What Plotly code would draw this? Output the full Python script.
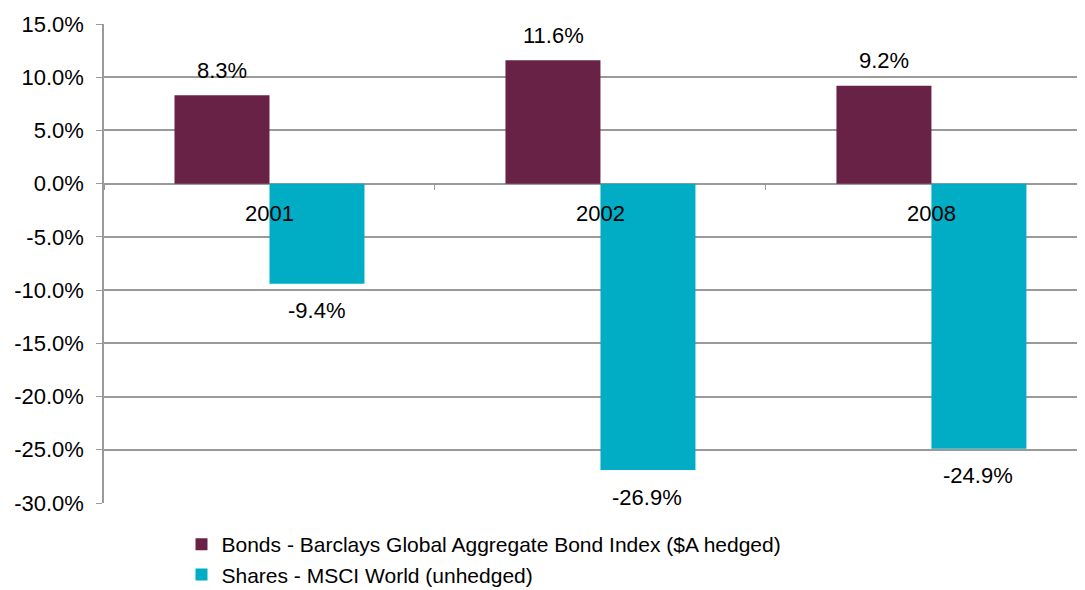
import plotly.graph_objects as go

categories = ["2001", "2002", "2008"]
bonds = [8.3, 11.6, 9.2]
shares = [-9.4, -26.9, -24.9]
series_names = ["Bonds - Barclays Global Aggregate Bond Index ($A hedged)",
                "Shares - MSCI World (unhedged)"]
y_ticks = [15, 10, 5, 0, -5, -10, -15, -20, -25, -30]

BOND_C = "#672245"
SHARE_C = "#00ADC4"
GRID = "#9a9a9a"
FONT = "Liberation Sans, Arial, sans-serif"
FS = 22

fig = go.Figure()
fig.add_trace(go.Bar(x=categories, y=bonds, name=series_names[0],
                     marker=dict(color=BOND_C, line=dict(width=0))))
fig.add_trace(go.Bar(x=categories, y=shares, name=series_names[1],
                     marker=dict(color=SHARE_C, line=dict(width=0))))

annotations = []
for i, c in enumerate(categories):
    annotations.append(dict(x=i, y=bonds[i], xref="x", yref="y", text=f"{bonds[i]:.1f}%",
                            showarrow=False, xshift=-47, yshift=25,
                            font=dict(size=FS, color="black", family=FONT)))
    annotations.append(dict(x=i, y=shares[i], xref="x", yref="y", text=f"{shares[i]:.1f}%",
                            showarrow=False, xshift=47, yshift=-27,
                            font=dict(size=FS, color="black", family=FONT)))

# page body adds an 8px offset, so the figure is 8px smaller than the window
fig.update_layout(
    width=1077, height=582,
    margin=dict(l=96, r=0, t=16, b=87, autoexpand=False),
    paper_bgcolor="white", plot_bgcolor="white",
    barmode="group", bargap=0.426, bargroupgap=0,
    font=dict(family=FONT, size=FS, color="black"),
    annotations=annotations,
    showlegend=True,
    legend=dict(orientation="v", x=0.079, xanchor="left", y=-0.044, yanchor="top",
                font=dict(size=21, family=FONT, color="black"),
                tracegroupgap=0, itemwidth=30, bgcolor="rgba(0,0,0,0)"),
    xaxis=dict(type="category", range=[-0.5, 2.464], anchor="free", position=0.666,
               showgrid=False, showline=False, zeroline=False, automargin=False,
               ticks="outside", tickson="boundaries", ticklen=5, tickcolor=GRID,
               tickfont=dict(size=FS, family=FONT, color="black"),
               ticklabelstandoff=14),
    yaxis=dict(range=[-30, 15], tickvals=y_ticks, automargin=False,
               ticktext=[f"{v:.1f}%" for v in y_ticks],
               showgrid=True, gridcolor=GRID, gridwidth=1.5,
               zeroline=True, zerolinecolor=GRID, zerolinewidth=1.5,
               showline=True, linecolor=GRID, linewidth=1.5,
               ticks="outside", ticklen=6, tickcolor=GRID,
               ticklabelstandoff=8,
               tickfont=dict(size=FS, family=FONT, color="black")),
)

fig.write_html("out.html")
